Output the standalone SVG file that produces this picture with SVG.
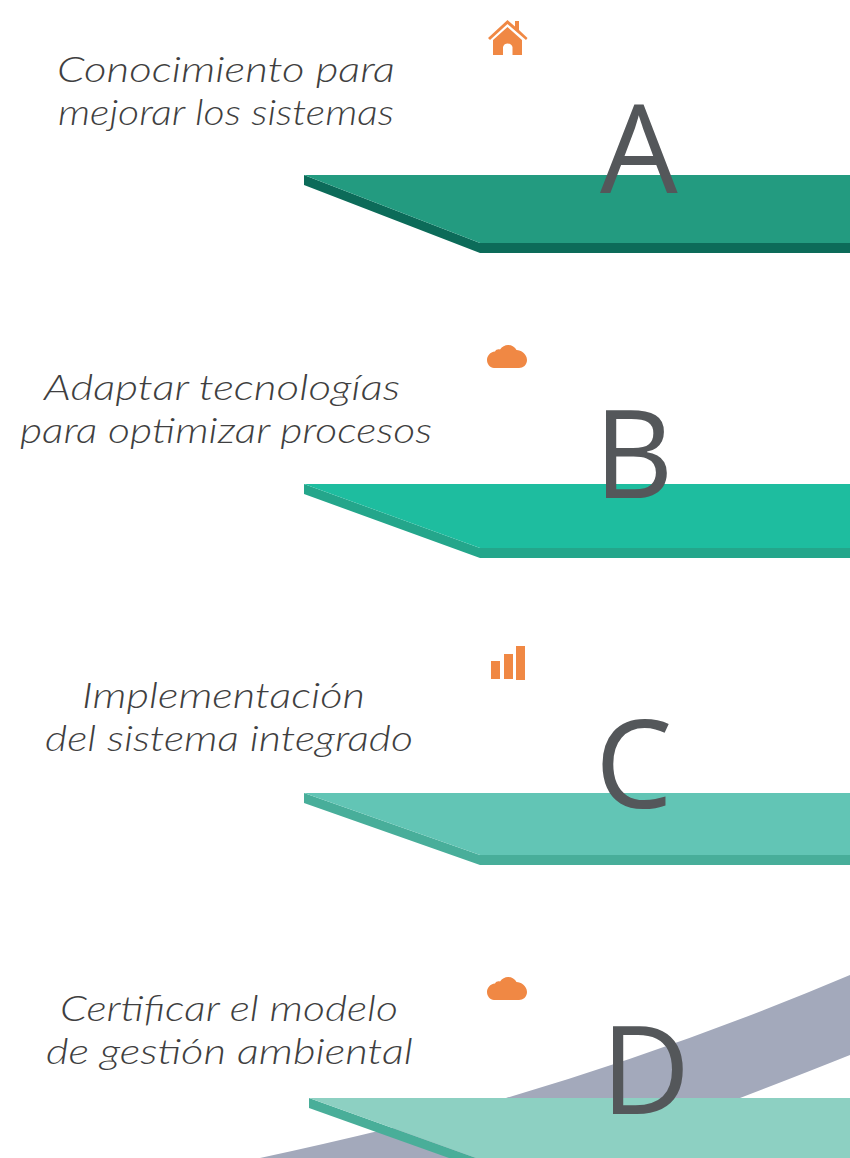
<svg xmlns="http://www.w3.org/2000/svg" xmlns:xlink="http://www.w3.org/1999/xlink" width="850" height="1158" viewBox="0 0 850 1158">
<style>
.t{font-family:"Lato","Noto Sans",sans-serif;font-style:italic;font-weight:300;font-size:36px;fill:#3f3f41}
.l{font-family:"Open Sans","Noto Sans",sans-serif;font-size:123px;fill:#54575a}
.o{fill:#f08844}
</style>
<defs>
<path id="cloud" d="M494 368C490 368 487 364 487 360C487 356 490 352 495 351.5C496 349.5 498 349 500 349.5C502 346.5 505 345 508 345C512 345 515 347 516.500 350C521 350 527 354 527 360C527 365 523 368 519 368Z"/>
</defs>
<rect width="850" height="1158" fill="#fff"/>
<g id="band"><path fill="#a3a9bb" d="M260 1158Q390 1130 506 1098Q680 1047 850 975V1055Q800 1075 740 1098L700 1158Z"/></g>
<g id="node-a">
<path fill="#0c6b59" d="M304 175V185L480 253H850V243H480Z"/>
<path fill="#239b80" d="M304 175H850V243H480Z"/>
<text class="l" x="600" y="193">A</text>
<text class="t" x="57" y="82" textLength="338" lengthAdjust="spacingAndGlyphs">Conocimiento para</text>
<text class="t" x="58" y="125" textLength="336" lengthAdjust="spacingAndGlyphs">mejorar los sistemas</text>
<path class="o" d="M507.500 20L515 26.500V21H519V30L527.500 38L526 40L507.500 24L490 40L488 38Z"/>
<path class="o" d="M493 40L507.500 27L522 40V55H512.500V47A5 5 0 0 0 503 47V55H493Z"/>
</g>
<g id="node-b">
<path fill="#24a68b" d="M304 484V494L480 558H850V548H480Z"/>
<path fill="#1ebd9f" d="M304 484H850V548H480Z"/>
<text class="l" x="594" y="498">B</text>
<text class="t" x="44" y="400" textLength="356" lengthAdjust="spacingAndGlyphs">Adaptar tecnologías</text>
<text class="t" x="20" y="443" textLength="412" lengthAdjust="spacingAndGlyphs">para optimizar procesos</text>
<use xlink:href="#cloud" class="o"/>
</g>
<g id="node-c">
<path fill="#48ae9a" d="M304 793V803L480 865H850V855H480Z"/>
<path fill="#62c5b5" d="M304 793H850V855H480Z"/>
<text class="l" x="595" y="808">C</text>
<text class="t" x="82" y="708" textLength="283" lengthAdjust="spacingAndGlyphs">Implementación</text>
<text class="t" x="45" y="751" textLength="368" lengthAdjust="spacingAndGlyphs">del sistema integrado</text>
<rect class="o" x="491" y="661" width="9" height="18"/>
<rect class="o" x="504" y="654" width="9" height="25"/>
<rect class="o" x="516" y="646" width="9" height="34"/>
</g>
<g id="node-d">
<path fill="#49ae99" d="M309 1098V1108L449 1158H476Z"/>
<path fill="#8dd0c2" d="M309 1098H850V1158H476Z"/>
<text class="l" x="601" y="1114">D</text>
<text class="t" x="60" y="1021" textLength="338" lengthAdjust="spacingAndGlyphs">Certificar el modelo</text>
<text class="t" x="46" y="1064" textLength="367" lengthAdjust="spacingAndGlyphs">de gestión ambiental</text>
<use xlink:href="#cloud" class="o" y="632"/>
</g>
</svg>
